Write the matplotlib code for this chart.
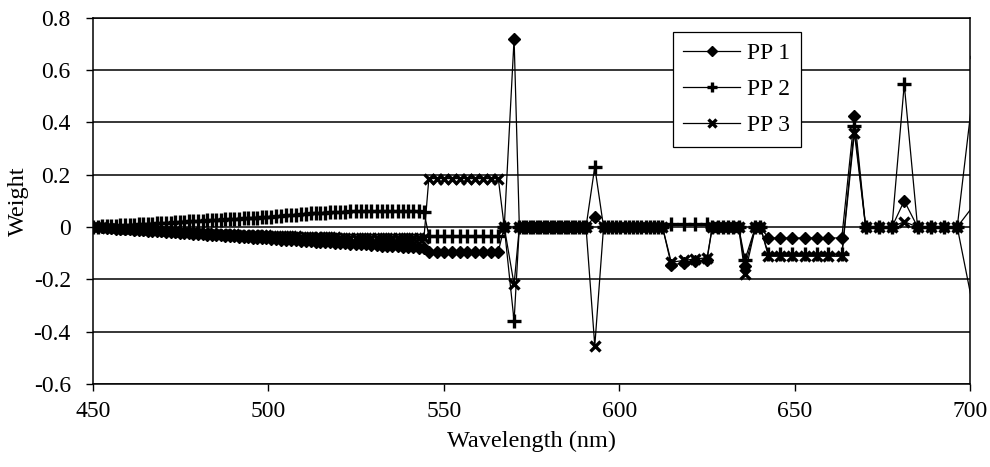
import matplotlib
matplotlib.use("Agg")
import matplotlib.pyplot as plt

plt.rcParams['font.family'] = ['Liberation Serif', 'DejaVu Serif']
plt.rcParams['axes.unicode_minus'] = False

# ---------------- data ----------------
wavelength = [
    # slowly drifting region
    450.0, 451.3, 452.6, 453.9, 455.2, 456.5, 457.8, 459.1, 460.4, 461.7,
    463.0, 464.3, 465.6, 466.9, 468.2, 469.5, 470.8, 472.1, 473.4, 474.7,
    476.0, 477.3, 478.6, 479.9, 481.2, 482.5, 483.8, 485.1, 486.4, 487.7,
    489.0, 490.3, 491.6, 492.9, 494.2, 495.5, 496.8, 498.1, 499.4, 500.8,
    502.2, 503.6, 505.0, 506.4, 507.8, 509.2, 510.6, 512.0, 513.4, 514.8,
    516.2, 517.6, 519.0, 520.4, 521.8, 523.3, 524.8, 526.3, 527.8, 529.3,
    530.8, 532.3, 533.8, 535.3, 536.8, 538.3, 539.8, 541.3, 542.8, 544.3,
    # plateau block
    545.7, 547.9, 550.1, 552.3, 554.5, 556.7, 558.9, 561.1, 563.3, 565.5,
    # spike at 570
    567.2, 570.0,
    571.5, 572.5, 573.5, 574.5, 575.5, 576.5, 577.5, 578.5, 579.5, 580.5,
    581.5, 582.5, 583.5, 584.5, 585.5, 586.5, 587.5, 588.5, 589.5, 590.5,
    # spike at 593
    593.0,
    595.5, 596.7, 597.9, 599.1, 600.3, 601.5, 602.7, 603.9, 605.1, 606.3,
    607.5, 608.7, 609.9, 611.1, 612.3,
    614.8, 618.3, 621.7, 625.0,
    626.5, 628.0, 629.5, 631.0, 632.5, 634.0,
    635.8,
    638.8, 640.2,
    642.5, 645.8, 649.1, 652.9, 656.3, 659.6, 663.4,
    667.0,
    670.2, 674.0, 677.7,
    681.2,
    685.0, 688.7, 692.5, 696.3,
    702.0,
]

pp1 = [
    0.000, -0.001, -0.002, -0.003, -0.005, -0.006, -0.007, -0.008, -0.009, -0.010,
    -0.012, -0.013, -0.014, -0.015, -0.016, -0.017, -0.019, -0.020, -0.021, -0.022,
    -0.023, -0.024, -0.026, -0.027, -0.028, -0.029, -0.030, -0.031, -0.032, -0.034,
    -0.035, -0.036, -0.037, -0.038, -0.039, -0.041, -0.042, -0.043, -0.044, -0.045,
    -0.046, -0.048, -0.049, -0.050, -0.051, -0.052, -0.053, -0.055, -0.056, -0.057,
    -0.058, -0.059, -0.060, -0.061, -0.063, -0.064, -0.065, -0.066, -0.067, -0.068,
    -0.070, -0.071, -0.072, -0.073, -0.074, -0.075, -0.077, -0.078, -0.079, -0.080,
    -0.096, -0.096, -0.095, -0.095, -0.095, -0.095, -0.095, -0.095, -0.094, -0.094,
    0.000, 0.720,
    0, 0, 0, 0, 0, 0, 0, 0, 0, 0, 0, 0, 0, 0, 0, 0, 0, 0, 0, 0,
    0.040,
    0, 0, 0, 0, 0, 0, 0, 0, 0, 0, 0, 0, 0, 0, 0,
    -0.145, -0.138, -0.132, -0.125,
    0, 0, 0, 0, 0, 0,
    -0.150,
    0, 0,
    -0.042, -0.042, -0.042, -0.042, -0.042, -0.042, -0.042,
    0.425,
    0, 0, 0,
    0.100,
    0, 0, 0, 0,
    0.100,
]

pp2 = [
    0.000, 0.001, 0.002, 0.003, 0.004, 0.005, 0.006, 0.007, 0.008, 0.009,
    0.010, 0.011, 0.012, 0.013, 0.014, 0.015, 0.016, 0.017, 0.018, 0.019,
    0.020, 0.021, 0.022, 0.023, 0.024, 0.025, 0.026, 0.027, 0.028, 0.029,
    0.030, 0.031, 0.032, 0.033, 0.034, 0.035, 0.036, 0.037, 0.038, 0.040,
    0.041, 0.043, 0.044, 0.046, 0.047, 0.049, 0.050, 0.052, 0.053, 0.054,
    0.055, 0.056, 0.057, 0.058, 0.059, 0.060, 0.060, 0.061, 0.061, 0.061,
    0.061, 0.061, 0.060, 0.060, 0.060, 0.060, 0.060, 0.060, 0.060, 0.059,
    -0.034, -0.034, -0.034, -0.034, -0.034, -0.034, -0.034, -0.034, -0.034, -0.034,
    0.000, -0.360,
    0, 0, 0, 0, 0, 0, 0, 0, 0, 0, 0, 0, 0, 0, 0, 0, 0, 0, 0, 0,
    0.230,
    0, 0, 0, 0, 0, 0, 0, 0, 0, 0, 0, 0, 0, 0, 0,
    0.010, 0.012, 0.010, 0.012,
    0, 0, 0, 0, 0, 0,
    -0.125,
    0, 0,
    -0.105, -0.105, -0.105, -0.105, -0.105, -0.105, -0.105,
    0.385,
    0, 0, 0,
    0.545,
    0, 0, 0, 0,
    0.650,
]

pp3 = [
    0.000, -0.001, -0.002, -0.003, -0.004, -0.005, -0.006, -0.007, -0.008, -0.009,
    -0.010, -0.011, -0.012, -0.012, -0.013, -0.014, -0.015, -0.016, -0.017, -0.018,
    -0.019, -0.020, -0.021, -0.022, -0.023, -0.024, -0.024, -0.025, -0.026, -0.026,
    -0.027, -0.028, -0.029, -0.029, -0.030, -0.031, -0.031, -0.032, -0.032, -0.033,
    -0.034, -0.034, -0.035, -0.036, -0.036, -0.037, -0.038, -0.038, -0.039, -0.039,
    -0.040, -0.040, -0.040, -0.041, -0.041, -0.041, -0.041, -0.042, -0.042, -0.042,
    -0.042, -0.042, -0.043, -0.043, -0.043, -0.043, -0.044, -0.044, -0.044, -0.044,
    0.185, 0.185, 0.185, 0.185, 0.185, 0.185, 0.185, 0.185, 0.185, 0.185,
    0.000, -0.220,
    0, 0, 0, 0, 0, 0, 0, 0, 0, 0, 0, 0, 0, 0, 0, 0, 0, 0, 0, 0,
    -0.455,
    0, 0, 0, 0, 0, 0, 0, 0, 0, 0, 0, 0, 0, 0, 0,
    -0.135, -0.128, -0.122, -0.118,
    0, 0, 0, 0, 0, 0,
    -0.180,
    0, 0,
    -0.112, -0.112, -0.112, -0.112, -0.112, -0.112, -0.112,
    0.360,
    0, 0, 0,
    0.020,
    0, 0, 0, 0,
    -0.385,
]

series_labels = ['PP 1', 'PP 2', 'PP 3']
x_ticks = [450, 500, 550, 600, 650, 700]
y_ticks = [-0.6, -0.4, -0.2, 0.0, 0.2, 0.4, 0.6, 0.8]

# ---------------- figure ----------------
fig = plt.figure(figsize=(9.9, 4.67), dpi=100)
ax = fig.add_axes([0.094, 0.178, 0.886, 0.784])
ax.set_xlim(450, 700)
ax.set_ylim(-0.6, 0.8)

for yv in y_ticks:
    ax.axhline(yv, color='black', lw=1.1, zorder=1)

common = dict(color='black', lw=0.9, zorder=3)
ax.plot(wavelength, pp1, marker='D', ms=6.5, mfc='black', mec='black',
        label=series_labels[0], **common)
ax.plot(wavelength, pp2, marker='+', ms=10, mew=2.4,
        label=series_labels[1], **common)
ax.plot(wavelength, pp3, marker='x', ms=7.5, mew=2.4,
        label=series_labels[2], **common)

ax.set_xticks(x_ticks)
ax.set_yticks(y_ticks)
ax.set_xticklabels([str(v) for v in x_ticks])
ax.set_yticklabels(['0' if abs(v) < 1e-9 else f'{v:.1f}' for v in y_ticks])
ax.tick_params(axis='both', direction='out', length=5, width=1,
               labelsize=17, colors='black')
ax.tick_params(axis='y', pad=11)
ax.tick_params(axis='x', pad=7)
for s in ax.spines.values():
    s.set_color('black')
    s.set_linewidth(1.1)

ax.set_xlabel('Wavelength (nm)', fontsize=17.5, labelpad=7)
ax.set_ylabel('Weight', fontsize=17.5, labelpad=3)

leg = ax.legend(loc='upper left', bbox_to_anchor=(0.661, 0.962),
                fontsize=17, frameon=True, fancybox=False, shadow=False,
                framealpha=1, facecolor='white', edgecolor='black',
                borderaxespad=0, borderpad=0.45, labelspacing=0.62,
                handlelength=2.4, handletextpad=0.3, markerscale=0.75)
leg.get_frame().set_linewidth(0.9)
leg.set_zorder(5)

fig.savefig('out.png', dpi=100, facecolor='white')
